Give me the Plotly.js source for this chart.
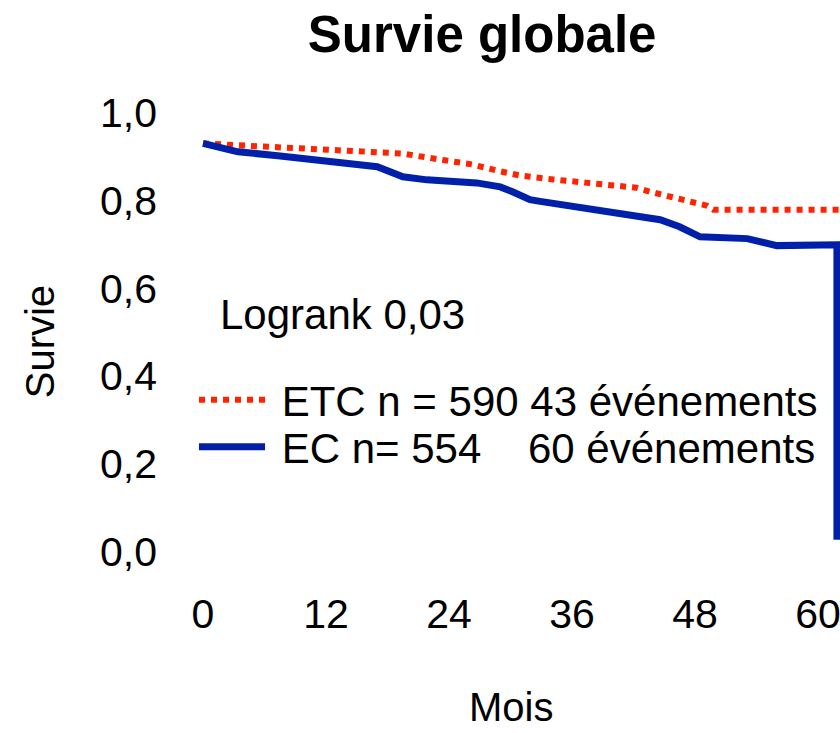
<!DOCTYPE html>
<html>
<head>
<meta charset="utf-8">
<script src="https://cdn.plot.ly/plotly-3.0.1.min.js"></script>
<style>html,body{margin:0;padding:0;background:#fff;}#chart{width:840px;height:733px;}</style>
</head>
<body>
<div id="chart"></div>
<script>
// Months (x) and survival probabilities
const etcMonths = [0, 7.5, 14.8, 19.5, 21.85, 24.1, 26.3, 28.7, 30.9, 34.15, 39.0, 42.3, 43.6, 46.8, 49.2, 49.8, 62.6];
const etcSurv   = [0.930, 0.921, 0.911, 0.907, 0.898, 0.889, 0.882, 0.868, 0.857, 0.848, 0.836, 0.829, 0.820, 0.802, 0.788, 0.779, 0.779];

const ecMonths = [0, 3.4, 7.3, 12.2, 13.2, 15.5, 17.0, 19.5, 21.85, 26.7, 29.0, 30.2, 31.9, 32.9, 36.8, 40.7, 44.6, 46.5, 48.5, 53.1, 56.0, 61.85, 61.85];
const ecSurv   = [0.930, 0.911, 0.902, 0.891, 0.886, 0.884, 0.877, 0.854, 0.847, 0.840, 0.831, 0.820, 0.802, 0.798, 0.784, 0.770, 0.756, 0.740, 0.717, 0.713, 0.697, 0.699, 0.026];

const etcName = '\u00a0ETC n = 590 43 événements';
const ecName  = '\u00a0EC n= 554\u00a0\u00a0\u00a0 60 événements';

const xTicks = [0, 12, 24, 36, 48, 60];
const yTicks = [0, 0.2, 0.4, 0.6, 0.8, 1.0];

const FONT = 'Liberation Sans, Arial, Helvetica, sans-serif';

const traces = [
  {x: etcMonths, y: etcSurv, name: etcName, type: 'scatter', mode: 'lines', legend: 'legend',
   line: {color: '#FF2400', width: 6, dash: 'dot'}},
  {x: ecMonths, y: ecSurv, name: ecName, type: 'scatter', mode: 'lines', legend: 'legend2',
   line: {color: '#0020AA', width: 7}}
];

const legendBase = {x: 0.0, xanchor: 'left', yanchor: 'middle', bgcolor: 'rgba(0,0,0,0)',
                    font: {size: 42}, itemwidth: 66};

const layout = {
  width: 840, height: 733,
  paper_bgcolor: '#fff', plot_bgcolor: '#fff',
  separators: ', ',
  font: {family: FONT, size: 41, color: '#000'},
  margin: {l: 194, r: 0, t: 104, b: 173},
  title: {text: '<b>Survie globale</b>', font: {family: FONT, size: 51, color: '#000'},
          xref: 'container', yref: 'container', x: 0.574, xanchor: 'center', y: 0.953, yanchor: 'middle'},
  xaxis: {range: [-0.88, 62.15], tickvals: xTicks, ticktext: xTicks.map(String), showgrid: false, zeroline: false,
          showline: false, ticks: '', ticklabelstandoff: 26, ticklabeloverflow: 'allow', tickfont: {size: 41}},
  yaxis: {range: [-0.02, 1.02], tickvals: yTicks, tickformat: '.1f', showgrid: false, zeroline: false,
          showline: false, ticks: '', ticklabelstandoff: 36, tickfont: {size: 41}},
  showlegend: true,
  legend: Object.assign({}, legendBase, {y: 0.351}),
  legend2: Object.assign({}, legendBase, {y: 0.248}),
  annotations: [
    {text: 'Logrank 0,03', xref: 'paper', yref: 'paper', x: 0.037, y: 0.538,
     xanchor: 'left', yanchor: 'middle', showarrow: false, font: {size: 42}},
    {text: 'Survie', xref: 'paper', yref: 'paper', x: -0.238, y: 0.478, textangle: -90,
     xanchor: 'center', yanchor: 'middle', showarrow: false, font: {size: 40}},
    {text: 'Mois', xref: 'paper', yref: 'paper', x: 0.491, y: -0.323,
     xanchor: 'center', yanchor: 'middle', showarrow: false, font: {size: 40}}
  ]
};

Plotly.newPlot('chart', traces, layout, {displayModeBar: false, staticPlot: true});
</script>
</body>
</html>
